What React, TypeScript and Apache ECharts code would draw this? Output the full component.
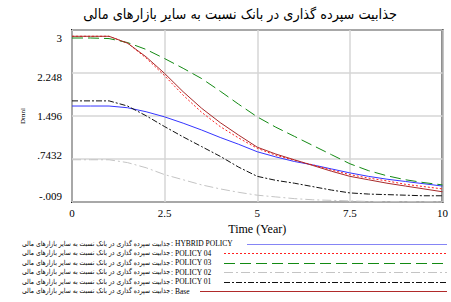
import React, { useEffect, useRef } from "react";
import * as echarts from "echarts";

const titleText = "جذابیت سپرده گذاری در بانک نسبت به سایر بازارهای مالی";
const varName = "جذابیت سپرده گذاری در بانک نسبت به سایر بازارهای مالی";

const times = [0, 0.5, 1, 1.5, 2, 2.5, 3, 3.5, 4, 4.5, 5, 5.5, 6, 6.5, 7, 7.5, 8, 8.5, 9, 9.5, 10];

const hybridPolicy = [1.67, 1.67, 1.67, 1.64, 1.57, 1.48, 1.37, 1.25, 1.12, 1.0, 0.87, 0.78, 0.7, 0.64, 0.57, 0.5, 0.44, 0.39, 0.35, 0.31, 0.27];
const policy04 = [2.89, 2.89, 2.89, 2.77, 2.51, 2.2, 1.86, 1.56, 1.31, 1.11, 0.93, 0.81, 0.72, 0.64, 0.55, 0.47, 0.41, 0.36, 0.3, 0.26, 0.22];
const policy03 = [2.86, 2.86, 2.85, 2.78, 2.66, 2.5, 2.33, 2.15, 1.93, 1.7, 1.48, 1.3, 1.14, 0.98, 0.82, 0.66, 0.54, 0.45, 0.38, 0.33, 0.29];
const policy02 = [0.73, 0.73, 0.73, 0.68, 0.59, 0.47, 0.38, 0.29, 0.22, 0.16, 0.11, 0.08, 0.05, 0.03, 0.02, 0.01, 0.0, -0.003, -0.004, -0.005, -0.005];
const policy01 = [1.76, 1.76, 1.76, 1.67, 1.5, 1.31, 1.13, 0.96, 0.79, 0.6, 0.44, 0.37, 0.32, 0.26, 0.2, 0.15, 0.13, 0.12, 0.11, 0.1, 0.1];
const base = [2.89, 2.89, 2.89, 2.77, 2.53, 2.24, 1.92, 1.63, 1.38, 1.16, 0.95, 0.83, 0.73, 0.63, 0.53, 0.44, 0.38, 0.32, 0.27, 0.22, 0.17];

const seriesNames = ["HYBRID POLICY", "POLICY 04", "POLICY 03", "POLICY 02", "POLICY 01", "Base"];
const seriesValues = [hybridPolicy, policy04, policy03, policy02, policy01, base];
const seriesColors = ["#3535ff", "#ff2020", "#138a13", "#c4c4c4", "#111111", "#a82a2a"];
const legendColors = ["#8585f5", "#ff2020", "#138a13", "#c4c4c4", "#111111", "#b02a2a"];
const seriesDash: any[] = ["solid", [2, 2], [11, 5], [9, 3, 2, 3], [6, 2, 2, 2], "solid"];

const yTickLabels = ["-.009", ".7432", "1.496", "2.248", "3"];
const yMin = -0.009;
const yMax = 3;
const yInterval = (yMax - yMin) / 4;
const xTickLabels = ["0", "2.5", "5", "7.5", "10"];

const yLabelShift = [-6, -4, 0, 3.5, 8];
const legendRowY = [243.5, 253, 262.5, 272, 281.5, 291];
const legendLineStart = [247, 224, 224, 224, 224, 200];

function measure(text: string, font: string): number {
  const c = document.createElement("canvas");
  const ctx = c.getContext("2d")!;
  ctx.font = font;
  return ctx.measureText(text).width || 1;
}

export default function App() {
  const ref = useRef<HTMLDivElement>(null);
  useEffect(() => {
    document.body.style.margin = "0";
    const chart = echarts.init(ref.current!, undefined, { renderer: "svg" });
    const legendFont = "7px 'DejaVu Sans'";
    const titleFont = "14px 'DejaVu Sans'";
    const legendScale = 148 / measure(varName, legendFont);
    const titleScale = 314 / measure(titleText, titleFont);
    const graphics: any[] = [];
    seriesNames.forEach((name, i) => {
      const y = legendRowY[i];
      graphics.push({
        type: "text",
        x: 170,
        y,
        scaleX: legendScale,
        style: {
          text: varName,
          font: legendFont,
          fill: "#000",
          align: "right",
          verticalAlign: "middle",
        },
      });
      graphics.push({
        type: "text",
        x: 171,
        y,
        style: {
          text: ": " + name,
          font: "7.5px 'Liberation Serif'",
          fill: "#000",
          align: "left",
          verticalAlign: "middle",
        },
      });
      graphics.push({
        type: "line",
        shape: { x1: legendLineStart[i], y1: Math.round(y) + 0.5, x2: 447, y2: Math.round(y) + 0.5 },
        style: {
          stroke: legendColors[i],
          lineWidth: 1,
          lineDash: seriesDash[i] === "solid" ? null : seriesDash[i],
        },
      });
    });
    graphics.push({
      type: "text",
      x: 240,
      y: 14,
      scaleX: titleScale,
      style: {
        text: titleText,
        font: titleFont,
        fill: "#000",
        align: "center",
        verticalAlign: "middle",
      },
    });

    const rich: any = {};
    yLabelShift.forEach((d, i) => {
      rich["r" + i] = {
        fontFamily: "Liberation Serif",
        fontSize: 11,
        color: "#000",
        padding: d >= 0 ? [2 * d, 0, 0, 0] : [0, 0, -2 * d, 0],
      };
    });

    chart.setOption({
      animation: false,
      backgroundColor: "#fff",
      grid: {
        left: 72,
        top: 30,
        width: 374,
        height: 172,
        show: true,
        borderColor: "#222",
        borderWidth: 2,
        backgroundColor: "transparent",
      },
      xAxis: {
        type: "value",
        min: 0,
        max: 10,
        interval: 2.5,
        name: "Time (Year)",
        nameLocation: "middle",
        nameGap: 21,
        nameTextStyle: { fontFamily: "Liberation Serif", fontSize: 12, color: "#000" },
        axisLine: { show: false },
        axisTick: { show: false },
        axisLabel: {
          fontFamily: "Liberation Serif",
          fontSize: 11,
          color: "#000",
          margin: 5,
          formatter: (v: number) => xTickLabels[Math.round(v / 2.5)] ?? "",
        },
        splitLine: { show: true, lineStyle: { color: "#d6d6d6", width: 1.5 } },
      },
      yAxis: {
        type: "value",
        min: yMin,
        max: yMax,
        interval: yInterval,
        name: "Dmnl",
        nameLocation: "middle",
        nameGap: 25,
        nameTextStyle: { fontFamily: "Liberation Serif", fontSize: 7, color: "#000" },
        axisLine: { show: false },
        axisTick: { show: false },
        axisLabel: {
          fontFamily: "Liberation Serif",
          fontSize: 11,
          color: "#000",
          margin: 10,
          rich,
          formatter: (v: number) => {
            const idx = Math.round((v - yMin) / yInterval);
            const t = yTickLabels[idx];
            return t === undefined ? "" : "{r" + idx + "|" + t + "}";
          },
        },
        splitLine: { show: true, lineStyle: { color: "#d6d6d6", width: 1.5 } },
      },
      series: seriesNames.map((name, i) => ({
        name,
        type: "line",
        showSymbol: false,
        smooth: false,
        data: times.map((t, k) => [t, seriesValues[i][k]]),
        lineStyle: { color: seriesColors[i], width: 1, type: seriesDash[i] },
        itemStyle: { color: seriesColors[i] },
      })),
      graphic: graphics,
    });
    return () => chart.dispose();
  }, []);
  return <div ref={ref} style={{ width: 451, height: 302 }} />;
}
